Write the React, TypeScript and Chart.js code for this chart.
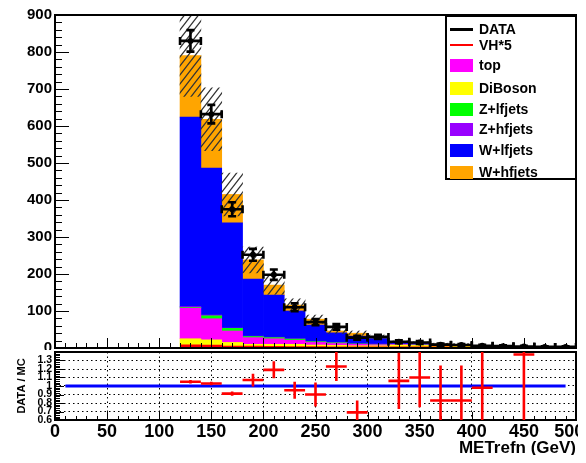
import React, { useEffect, useRef } from 'react';
import { Chart, registerables } from 'chart.js';

Chart.register(...registerables);

// ---------- data ----------
const binCenters = [130, 150, 170, 190, 210, 230, 250, 270, 290, 310, 330, 350, 370, 390, 410, 430, 450, 470, 490];
const binHalfWidth = 10;

const dataCounts = [830, 632, 375, 252, 198, 110, 70, 57, 28, 30, 17, 15, 9, 8, 6, 5, 4, 3, 3];
const dataErr = [29, 25, 19, 16, 14, 10.5, 8.4, 7.5, 5.3, 5.5, 4.1, 3.9, 3, 2.8, 2.4, 2.2, 2, 1.7, 1.7];

const diBoson = [25, 22, 15, 10, 10, 10, 8, 7, 6, 6, 8, 7, 6, 5.5, 3.5, 3, 1.2, 1.8, 1.8];
const topQuark = [83, 57, 31, 18, 15, 11, 7, 5, 4, 3, 1.5, 1.2, 0.8, 0.7, 0.4, 0.3, 0.2, 0.2, 0.2];
const zLfJets = [2, 8, 7, 3, 3, 3, 2, 2, 1, 1, 0.5, 0.4, 0.3, 0.3, 0.2, 0.1, 0.1, 0.1, 0.1];
const zHfJets = [2, 2, 1, 1, 1, 1, 1, 1, 0.5, 0.5, 0.3, 0.3, 0.2, 0.2, 0.1, 0.1, 0.1, 0.1, 0.1];
const wLfJets = [512, 397, 284, 154, 114, 75, 44, 26, 20.5, 15, 4.5, 4, 3, 2.7, 1.5, 1.2, 0.5, 0.6, 0.6];
const wHfJets = [166, 132, 77, 52, 27, 16, 16, 5, 8, 4.5, 1.2, 1.1, 0.7, 0.6, 0.3, 0.3, 0.1, 0.2, 0.2];
const mcErr = [110, 85, 58, 35, 25, 17, 11, 7, 6, 5, 3, 2.5, 2, 2, 1.2, 1, 0.6, 0.8, 0.8];
const vhTimes5 = [6, 6, 5.5, 3, 2.5, 2, 1.5, 1.2, 1, 0.8, 0.6, 0.5, 0.4, 0.4, 0.3, 0.3, 0.2, 0.2, 0.2];

const stackNames = ['DiBoson', 'top', 'Z+lfjets', 'Z+hfjets', 'W+lfjets', 'W+hfjets'];
const stackColors = ['#ffff00', '#ff00ff', '#00ff00', '#9900ff', '#0000ff', '#ffa500'];
const stackValues = [diBoson, topQuark, zLfJets, zHfJets, wLfJets, wHfJets];

const legendNames = ['DATA', 'VH*5', 'top', 'DiBoson', 'Z+lfjets', 'Z+hfjets', 'W+lfjets', 'W+hfjets'];

const ratioCenters = [130, 150, 170, 190, 210, 230, 250, 270, 290, 330, 350, 370, 390, 410, 450];
const ratioValues = [1.05, 1.03, 0.91, 1.07, 1.19, 0.95, 0.9, 1.23, 0.69, 1.06, 1.1, 0.83, 0.83, 0.98, 1.37];
const ratioErr = [0.02, 0.02, 0.025, 0.075, 0.1, 0.1, 0.14, 0.17, 0.14, 0.33, 0.35, 0.41, 0.41, 0.45, 0.8];
const unityLineX = [10, 490];
const unityLineY = [1, 1];

const xTickValues = [0, 50, 100, 150, 200, 250, 300, 350, 400, 450, 500];

// ---------- styling ----------
const FONT = "'Liberation Sans', Arial, Helvetica, sans-serif";

const rootFrame = {
  id: 'rootFrame',
  afterDatasetsDraw(chart: any, _args: any, opts: any) {
    const { ctx, chartArea: a, scales } = chart;
    const xs = scales.x;
    const ys = scales.y;
    ctx.save();
    ctx.strokeStyle = '#000';
    ctx.lineWidth = 1;
    const nx = Math.round((xs.max - xs.min) / opts.xMinor);
    for (let i = 0; i <= nx; i++) {
      const v = xs.min + i * opts.xMinor;
      const isMajor = Math.abs(v / opts.xMajor - Math.round(v / opts.xMajor)) < 1e-6;
      const len = isMajor ? opts.xMajorLen : opts.xMinorLen;
      const px = Math.round(xs.getPixelForValue(v)) + 0.5;
      ctx.beginPath();
      ctx.moveTo(px, a.bottom);
      ctx.lineTo(px, a.bottom - len);
      ctx.stroke();
    }
    const ny = Math.round((ys.max - ys.min) / opts.yMinor);
    for (let i = 0; i <= ny; i++) {
      const v = ys.min + i * opts.yMinor;
      const q = (v - ys.min) / opts.yMajor;
      const isMajor = Math.abs(q - Math.round(q)) < 1e-6;
      const len = isMajor ? opts.yMajorLen : opts.yMinorLen;
      const py = Math.round(ys.getPixelForValue(v)) + 0.5;
      ctx.beginPath();
      ctx.moveTo(a.left, py);
      ctx.lineTo(a.left + len, py);
      ctx.stroke();
    }
    ctx.lineWidth = 2;
    ctx.strokeRect(a.left, a.top, a.right - a.left, a.bottom - a.top);
    ctx.restore();
  },
};

const errorBars = {
  id: 'errorBars',
  afterDatasetsDraw(chart: any) {
    const { ctx, chartArea: a, scales } = chart;
    const xs = scales.x;
    const ys = scales.y;
    chart.data.datasets.forEach((ds: any) => {
      const eb = ds.errorBars;
      if (!eb) return;
      ctx.save();
      ctx.beginPath();
      ctx.rect(a.left, a.top, a.right - a.left, a.bottom - a.top);
      ctx.clip();
      ctx.strokeStyle = eb.color;
      ctx.fillStyle = eb.color;
      ctx.lineWidth = eb.width;
      ds.data.forEach((p: any, i: number) => {
        if (p.y == null) return;
        const e = eb.yerr[i];
        const x = xs.getPixelForValue(p.x);
        const y = ys.getPixelForValue(p.y);
        const xl = xs.getPixelForValue(p.x - eb.xerr);
        const xr = xs.getPixelForValue(p.x + eb.xerr);
        const yt = ys.getPixelForValue(p.y + e);
        const yb = ys.getPixelForValue(p.y - e);
        ctx.beginPath();
        ctx.moveTo(xl, y);
        ctx.lineTo(xr, y);
        ctx.moveTo(x, yt);
        ctx.lineTo(x, yb);
        if (eb.cap > 0) {
          const c = eb.cap / 2;
          ctx.moveTo(xl, y - c);
          ctx.lineTo(xl, y + c);
          ctx.moveTo(xr, y - c);
          ctx.lineTo(xr, y + c);
          ctx.moveTo(x - c, yt);
          ctx.lineTo(x + c, yt);
          ctx.moveTo(x - c, yb);
          ctx.lineTo(x + c, yb);
        }
        ctx.stroke();
        if (eb.marker > 0) {
          ctx.beginPath();
          ctx.arc(x, y, eb.marker, 0, Math.PI * 2);
          ctx.fill();
        }
      });
      ctx.restore();
    });
  },
};

function makeHatch(): CanvasPattern | string {
  const c = document.createElement('canvas');
  c.width = 7;
  c.height = 9;
  const g = c.getContext('2d');
  if (!g) return 'rgba(0,0,0,0.3)';
  g.strokeStyle = '#333333';
  g.lineWidth = 1.3;
  g.beginPath();
  for (const off of [-7, 0, 7]) {
    g.moveTo(off - 7, 18);
    g.lineTo(off + 14, -9);
  }
  g.stroke();
  return g.createPattern(c, 'repeat') || 'rgba(0,0,0,0.3)';
}

const CANVAS_W = 578;

export default function App() {
  const topRef = useRef<HTMLCanvasElement>(null);
  const ratioRef = useRef<HTMLCanvasElement>(null);

  useEffect(() => {
    if (!topRef.current || !ratioRef.current) return;
    const hatch = makeHatch();
    const mcTotal = binCenters.map((_, i) => stackValues.reduce((s, arr) => s + arr[i], 0));
    const vhSteps = [
      ...binCenters.map((x, i) => ({ x: x - binHalfWidth, y: vhTimes5[i] })),
      { x: binCenters[binCenters.length - 1] + binHalfWidth, y: vhTimes5[vhTimes5.length - 1] },
    ];

    const barCommon = {
      type: 'bar' as const,
      grouped: false,
      barPercentage: 1,
      categoryPercentage: 1,
      borderWidth: 0,
    };

    const top = new Chart(topRef.current, {
      type: 'bar',
      data: {
        datasets: [
          {
            type: 'line',
            label: 'DATA',
            data: binCenters.map((x, i) => ({ x, y: dataCounts[i] })),
            showLine: false,
            pointRadius: 0,
            borderColor: '#000',
            backgroundColor: '#000',
            stack: 'data',
            errorBars: { yerr: dataErr, xerr: binHalfWidth, color: '#000', width: 2.6, cap: 8, marker: 3 },
          } as any,
          {
            type: 'line',
            label: 'VH*5',
            data: vhSteps,
            stepped: 'after',
            borderColor: '#ff0000',
            borderWidth: 2.5,
            pointRadius: 0,
            fill: false,
            stack: 'vh',
          } as any,
          {
            ...barCommon,
            label: 'MC uncertainty',
            data: binCenters.map((x, i) => ({ x, y: [mcTotal[i] - mcErr[i], mcTotal[i] + mcErr[i]] })),
            backgroundColor: hatch,
            stack: 'band',
          } as any,
          ...stackNames.map((name, k) => ({
            ...barCommon,
            label: name,
            data: binCenters.map((x, i) => ({ x, y: stackValues[k][i] })),
            backgroundColor: stackColors[k],
            stack: 'mc',
          })) as any,
        ],
      },
      options: {
        responsive: false,
        animation: false,
        events: [],
        layout: { padding: { top: 7, bottom: 2, left: 0, right: 10 } },
        plugins: {
          legend: { display: false },
          tooltip: { enabled: false },
          rootFrame: { xMajor: 50, xMinor: 10, xMajorLen: 10, xMinorLen: 5, yMajor: 100, yMinor: 20, yMajorLen: 14, yMinorLen: 7 },
        } as any,
        scales: {
          x: {
            type: 'linear',
            display: false,
            min: 0,
            max: 500,
            offset: false,
            grid: { offset: false },
          },
          y: {
            stacked: true,
            min: 0,
            max: 900,
            grid: { display: false, drawTicks: false },
            border: { display: false },
            ticks: {
              stepSize: 100,
              padding: 3,
              color: '#000',
              font: { family: FONT, size: 15, weight: 'bold' },
            },
            afterFit: (s: any) => {
              s.width = 47;
              s.paddingTop = 0;
              s.paddingBottom = 0;
            },
          },
        },
      },
      plugins: [rootFrame, errorBars],
    } as any);

    const ratio = new Chart(ratioRef.current, {
      type: 'line',
      data: {
        datasets: [
          {
            label: 'DATA / MC',
            data: ratioCenters.map((x, i) => ({ x, y: ratioValues[i] })),
            showLine: false,
            pointRadius: 0,
            borderColor: '#ff0000',
            errorBars: { yerr: ratioErr, xerr: binHalfWidth, color: '#ff0000', width: 2.6, cap: 0, marker: 0 },
          } as any,
          {
            label: 'unity',
            data: unityLineX.map((x, i) => ({ x, y: unityLineY[i] })),
            borderColor: '#0000ff',
            borderWidth: 3,
            pointRadius: 0,
            fill: false,
          },
        ],
      },
      options: {
        responsive: false,
        animation: false,
        events: [],
        layout: { padding: { top: 2, bottom: 0, left: 0, right: 10 } },
        plugins: {
          legend: { display: false },
          tooltip: { enabled: false },
          rootFrame: { xMajor: 50, xMinor: 10, xMajorLen: 8, xMinorLen: 4, yMajor: 0.1, yMinor: 0.02, yMajorLen: 9, yMinorLen: 5 },
        } as any,
        scales: {
          x: {
            type: 'linear',
            min: 0,
            max: 500,
            afterBuildTicks: (s: any) => {
              s.ticks = xTickValues.map((v) => ({ value: v }));
            },
            ticks: {
              autoSkip: false,
              maxRotation: 0,
              padding: 1,
              color: '#000',
              font: { family: FONT, size: 18, weight: 'bold' },
              // keep the last label inside the page, as the original does
              callback: (v: any) => (Number(v) === 500 ? '500\u2007\u2009' : String(v)),
            },
            grid: { color: '#000', lineWidth: 1, drawTicks: false },
            border: { display: false, dash: [1.5, 3] },
            title: {
              display: true,
              text: 'METrefn (GeV)',
              align: 'end',
              color: '#000',
              font: { family: FONT, size: 17, weight: 'bold' },
              padding: { top: 0, bottom: 4 },
            },
            afterFit: (s: any) => {
              s.height = 43;
              s.paddingLeft = 0;
              s.paddingRight = 0;
            },
          },
          y: {
            min: 0.6,
            max: 1.4,
            ticks: {
              stepSize: 0.1,
              autoSkip: false,
              padding: 3,
              color: '#000',
              font: { family: FONT, size: 10.5, weight: 'bold' },
              callback: (v: any) => {
                const r = Math.round(Number(v) * 10) / 10;
                return r > 1.35 ? '' : String(r);
              },
            },
            grid: { color: '#000', lineWidth: 1, drawTicks: false },
            border: { display: false, dash: [1.5, 3] },
            title: {
              display: true,
              text: 'DATA / MC',
              color: '#000',
              font: { family: FONT, size: 11, weight: 'bold' },
              padding: { top: 7, bottom: 0 },
            },
            afterFit: (s: any) => {
              s.width = 47;
              s.paddingTop = 0;
              s.paddingBottom = 0;
            },
          },
        },
      },
      plugins: [rootFrame, errorBars],
    } as any);

    return () => {
      top.destroy();
      ratio.destroy();
    };
  }, []);

  const legendColor = (name: string) => {
    if (name === 'DATA') return '#000';
    if (name === 'VH*5') return '#ff0000';
    return stackColors[stackNames.indexOf(name)];
  };
  const rowCenters = [12, 28, 48, 71, 92, 112, 133, 155];

  return (
    <div style={{ position: 'relative', width: CANVAS_W, height: 447 }}>
      <canvas ref={topRef} width={CANVAS_W} height={342} style={{ position: 'absolute', left: 0, top: 0, width: CANVAS_W, height: 342 }} />
      <canvas ref={ratioRef} width={CANVAS_W} height={113} style={{ position: 'absolute', left: 0, top: 342, width: CANVAS_W, height: 113 }} />
      <div
        style={{
          position: 'absolute',
          left: 437,
          top: 7,
          width: 128,
          height: 161,
          border: '2px solid #000',
          background: '#fff',
          fontFamily: FONT,
          fontWeight: 'bold',
          fontSize: 14,
          color: '#000',
        }}
      >
        {legendNames.map((name, i) => {
          const isLine = name === 'DATA' || name === 'VH*5';
          return (
            <div key={name} style={{ position: 'absolute', left: 3, top: rowCenters[i] - 9, height: 18, display: 'flex', alignItems: 'center' }}>
              <div style={{ width: 23, height: 18, display: 'flex', alignItems: 'center' }}>
                <div style={{ width: 23, height: isLine ? (name === 'DATA' ? 3 : 2) : 13, background: legendColor(name) }} />
              </div>
              <span style={{ marginLeft: 6, whiteSpace: 'nowrap', lineHeight: '18px' }}>{name}</span>
            </div>
          );
        })}
      </div>
    </div>
  );
}
